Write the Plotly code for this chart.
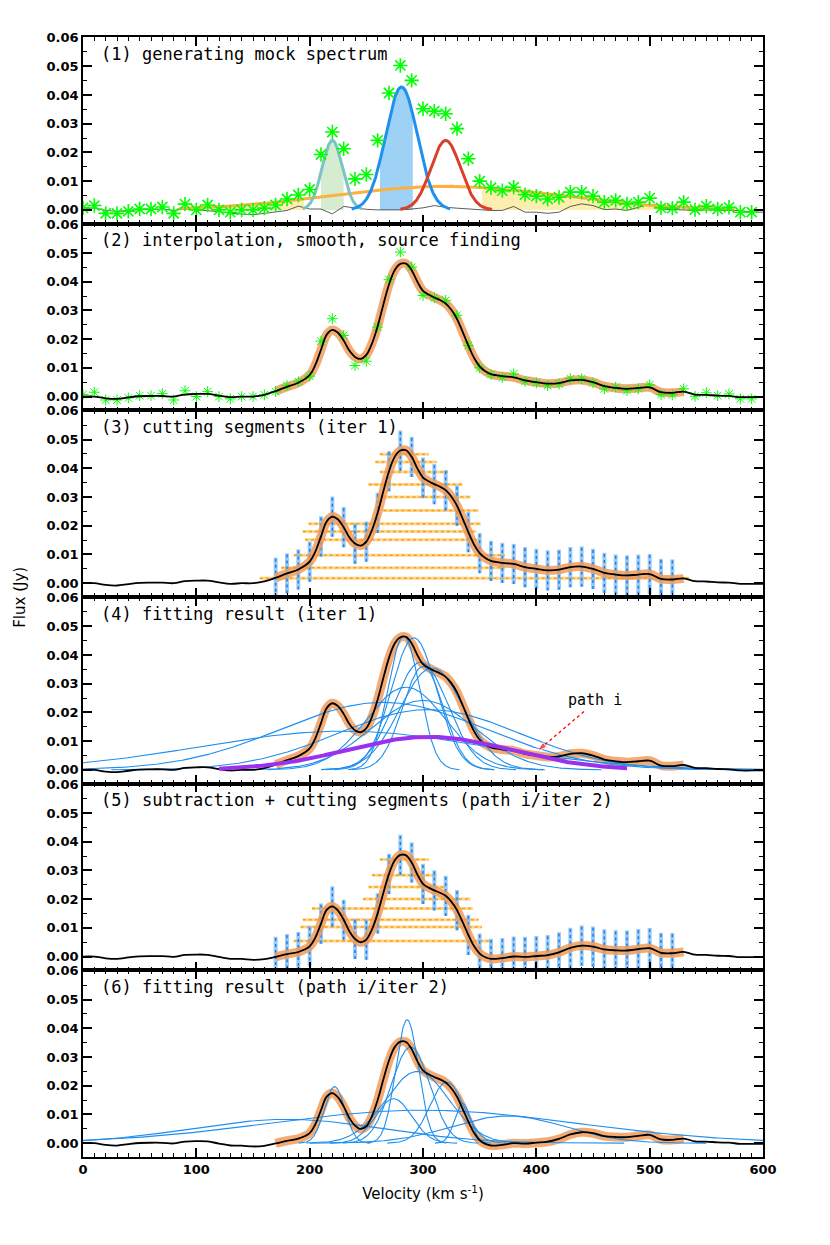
import numpy as np
import plotly.graph_objects as go
from plotly.subplots import make_subplots

# ---- data ----
# mock spectrum channels (green stars), km/s and Jy
chan_vel = list(range(0, 600, 10))
chan_flux = [0.0007, 0.0015, -0.0012, -0.0012, -0.0005, 0.0003, 0.0003, 0.0010, -0.0012, 0.0020,
             0.0000, 0.0017, 0.0000, -0.0008, 0.0000, 0.0000, 0.0006, 0.0017, 0.0038, 0.0052,
             0.0071, 0.0193, 0.0271, 0.0213, 0.0108, 0.0123, 0.0242, 0.0407, 0.0503, 0.0451,
             0.0352, 0.0344, 0.0335, 0.0283, 0.0178, 0.0100, 0.0077, 0.0067, 0.0079, 0.0053,
             0.0048, 0.0038, 0.0044, 0.0062, 0.0062, 0.0048, 0.0027, 0.0033, 0.0021, 0.0027,
             0.0041, 0.0007, 0.0006, 0.0027, 0.0001, 0.0013, 0.0003, 0.0009, -0.0008, -0.0008]

# residual noise of the mock spectrum (thin line, panel 1)
noise_vel = list(range(0, 610, 10))
noise_flux = [0.0003, 0.0007, -0.0002, -0.0005, -0.0002, 0.0001, 0.0001, 0.0003, -0.0002, 0.0003,
              0.0000, -0.0002, -0.0006, -0.0012, -0.0014, -0.0017, -0.0012, -0.0008, -0.0002, 0.0013,
              0.0003, 0.0003, -0.0014, 0.0012, 0.0006, 0.0002, 0.0000, 0.0000, 0.0000, 0.0003,
              0.0007, 0.0015, 0.0009, 0.0006, 0.0003, 0.0000, -0.0002, -0.0002, 0.0012, -0.0008,
              -0.0008, -0.0012, -0.0008, 0.0012, 0.0021, 0.0015, 0.0001, 0.0003, -0.0002, 0.0009,
              0.0021, 0.0003, 0.0001, 0.0001, -0.0002, 0.0000, -0.0002, -0.0002, -0.0002, -0.0008, -0.0008]

# interpolated + smoothed spectrum (black line)
smooth_vel = (list(range(0, 200, 10)) + list(range(200, 365, 5)) + list(range(370, 610, 10)))
smooth_flux = [0.0000, 0.0000, -0.0006, -0.0008, -0.0003, 0.0001, 0.0002, 0.0002, 0.0000, 0.0007,
               0.0009, 0.0009, 0.0003, -0.0002, 0.0000, 0.0000, 0.0006, 0.0019, 0.0034, 0.0048,
               0.0075, 0.0110, 0.0163, 0.0215, 0.0232, 0.0222, 0.0195, 0.0160, 0.0138, 0.0131,
               0.0145, 0.0185, 0.0245, 0.0320, 0.0390, 0.0440, 0.0462, 0.0463, 0.0440, 0.0400,
               0.0368, 0.0355, 0.0345, 0.0336, 0.0324, 0.0302, 0.0270, 0.0225, 0.0178, 0.0135,
               0.0105, 0.0088, 0.0078,
               0.0071, 0.0067, 0.0056, 0.0050, 0.0045, 0.0047, 0.0056, 0.0058, 0.0050, 0.0036,
               0.0030, 0.0027, 0.0030, 0.0032, 0.0015, 0.0013, 0.0017, 0.0007, 0.0006, 0.0003,
               0.0002, -0.0002, -0.0002, -0.0002]
source_range = [170, 530]

# panel 1 input components: amplitude, centre, sigma
mock_amp = [0.0242, 0.0428, 0.0242, 0.0082]
mock_cen = [220, 281, 320, 320]
mock_sig = [9, 14, 13, 100]
mock_span = [(194, 246), (237, 324), (280, 361), (85, 575)]
mock_fill = [[(210, 230)], [(262, 291)], [], [(85, 195), (352, 575)]]

# panel 3 segments and error bars
seg3_level = [0.0449, 0.0422, 0.0387, 0.0344, 0.0300, 0.0253, 0.0207, 0.0180, 0.0151, 0.0097, 0.0054, 0.0017]
seg3_left = [262, 258, 262, 252, 259, 265, 199, 194, 196, 186, 175, 156]
seg3_right = [305, 312, 322, 335, 342, 349, 351, 347, 350, 372, 372, 535]
bar_vel = list(range(170, 530, 10))
bar_half = 0.007

# panel 4 fitted components (iter 1)
fit1_amp = [0.0465, 0.0460, 0.0375, 0.0355, 0.0360, 0.0288, 0.0242, 0.0210, 0.0235, 0.0135]
fit1_cen = [283, 292, 298, 308, 300, 285, 300, 305, 265, 230]
fit1_sig = [14, 20, 24, 28, 18, 35, 45, 80, 90, 125]
path_amp, path_cen, path_sig = 0.0115, 305, 72
path_span = (120, 480)

# panel 5 segments
seg5_level = [0.0338, 0.0283, 0.0242, 0.0200, 0.0167, 0.0128, 0.0103, 0.0054]
seg5_left = [262, 255, 252, 247, 202, 194, 192, 186]
seg5_right = [305, 312, 319, 342, 344, 349, 352, 359]

# panel 6 fitted components (path i / iter 2)
fit2_amp = [0.0197, 0.0430, 0.0335, 0.0250, 0.0155, 0.0213, 0.0139, 0.0083, 0.0115, 0.0095]
fit2_cen = [222, 286, 289, 295, 274, 321, 335, 180, 300, 375]
fit2_sig = [9, 10, 17, 28, 16, 15, 7, 85, 135, 50]

panel_labels = ["(1) generating mock spectrum",
                "(2) interpolation, smooth, source finding",
                "(3) cutting segments (iter 1)",
                "(4) fitting result (iter 1)",
                "(5) subtraction + cutting segments (path i/iter 2)",
                "(6) fitting result (path i/iter 2)"]


def gauss(v, a, c, s):
    return a * np.exp(-0.5 * ((v - c) / s) ** 2)


ORANGE = "rgba(240,150,80,0.8)"
BLUE = "#1e8ff0"
FONT = "DejaVu Sans"
LABEL_FONT = "DejaVu Sans Mono"

sv = np.array(smooth_vel, dtype=float)
sf = np.array(smooth_flux)
resid = sf - gauss(sv, path_amp, path_cen, path_sig)
in_src = (sv >= source_range[0]) & (sv <= source_range[1])

fig = make_subplots(rows=6, cols=1, shared_xaxes=True, vertical_spacing=0)


def add(tr, r):
    fig.add_trace(tr, row=r, col=1)


def spectrum(r, flux):
    add(go.Scatter(x=sv[in_src], y=flux[in_src], mode="lines",
                   line=dict(color=ORANGE, width=9, shape="spline"), hoverinfo="skip"), r)


def black(r, flux):
    add(go.Scatter(x=sv, y=flux, mode="lines",
                   line=dict(color="black", width=1.8, shape="spline")), r)


def stars(r, size, lw):
    add(go.Scatter(x=chan_vel, y=chan_flux, mode="markers",
                   marker=dict(symbol="asterisk-open", size=size, color="#00ff00",
                               line=dict(color="#00ff00", width=lw))), r)


def components(r, amps, cens, sigs):
    for a, c, s in zip(amps, cens, sigs):
        v = np.linspace(max(0, c - 3.5 * s), min(600, c + 3.5 * s), 300)
        add(go.Scatter(x=v, y=gauss(v, a, c, s), mode="lines",
                       line=dict(color=BLUE, width=1.1)), r)


def segments(r, levels, lefts, rights, flux):
    hx, hy = [], []
    for lv, lo, hi in zip(levels, lefts, rights):
        hx += [lo, hi, None]
        hy += [lv, lv, None]
    add(go.Scatter(x=hx, y=hy, mode="lines", line=dict(color="rgba(255,195,100,0.7)", width=3)), r)
    add(go.Scatter(x=hx, y=hy, mode="lines", line=dict(color="#ffa000", width=1.5, dash="dot")), r)
    centre = np.interp(bar_vel, sv, flux)
    vx, vy = [], []
    for v, c in zip(bar_vel, centre):
        vx += [v, v, None]
        vy += [c - bar_half, c + bar_half, None]
    add(go.Scatter(x=vx, y=vy, mode="lines", line=dict(color="rgba(120,185,245,0.75)", width=4)), r)
    add(go.Scatter(x=vx, y=vy, mode="lines", line=dict(color="#1e7fe0", width=1.5, dash="dot")), r)


# panel 1: mock components
fill_of = {3: "#fdeeb0", 0: "#d5ecd0", 1: "#9dd2f6"}
for i in [3, 0, 1]:
    for lo, hi in mock_fill[i]:
        v = np.linspace(lo, hi, 100)
        add(go.Scatter(x=v, y=gauss(v, mock_amp[i], mock_cen[i], mock_sig[i]), mode="lines",
                       line=dict(width=0), fill="tozeroy", fillcolor=fill_of[i]), 1)
add(go.Scatter(x=noise_vel, y=noise_flux, mode="lines", line=dict(color="#333333", width=0.8)), 1)
line_cols = ["#7cc3c3", "#1e90f0", "#d9402b", "#fbb040"]
for i in [3, 0, 1, 2]:
    v = np.linspace(mock_span[i][0], mock_span[i][1], 300)
    add(go.Scatter(x=v, y=gauss(v, mock_amp[i], mock_cen[i], mock_sig[i]), mode="lines",
                   line=dict(color=line_cols[i], width=3)), 1)
stars(1, 12, 1.6)

# panel 2: smoothing
spectrum(2, sf)
stars(2, 9, 1.0)
black(2, sf)

# panel 3: segments iter 1
segments(3, seg3_level, seg3_left, seg3_right, sf)
spectrum(3, sf)
black(3, sf)

# panel 4: fit iter 1
spectrum(4, sf)
components(4, fit1_amp, fit1_cen, fit1_sig)
black(4, sf)
pv = np.linspace(path_span[0], path_span[1], 300)
add(go.Scatter(x=pv, y=gauss(pv, path_amp, path_cen, path_sig), mode="lines",
               line=dict(color="#9b30f0", width=4)), 4)
# dotted red arrow pointing at path i
add(go.Scatter(x=[442, 401], y=[0.0203, 0.0066], mode="lines+markers",
               line=dict(color="red", width=1.3, dash="dot"),
               marker=dict(symbol="arrow", size=[0, 10], angleref="previous", color="red")), 4)
fig.add_annotation(x=452, y=0.0243, xref="x4", yref="y4", text="path i", showarrow=False,
                   font=dict(family=LABEL_FONT, size=15, color="black"))

# panel 5: subtraction + segments
segments(5, seg5_level, seg5_left, seg5_right, resid)
spectrum(5, resid)
black(5, resid)

# panel 6: fit path i / iter 2
spectrum(6, resid)
components(6, fit2_amp, fit2_cen, fit2_sig)
black(6, resid)

for r, lab in enumerate(panel_labels, start=1):
    xr = "x" if r == 1 else f"x{r}"
    yr = "y" if r == 1 else f"y{r}"
    fig.add_annotation(x=14, y=0.0544, xref=xr, yref=yr, text=lab, showarrow=False,
                       xanchor="left", yanchor="middle",
                       font=dict(family=LABEL_FONT, size=17, color="black"))

fig.add_annotation(x=-0.093, y=0.5, xref="paper", yref="paper", text="Flux (Jy)",
                   textangle=-90, showarrow=False, xanchor="center", yanchor="middle",
                   font=dict(family=FONT, size=15, color="black"))

tick_font = dict(family=FONT, size=13, color="black", weight="bold")
fig.update_xaxes(range=[0, 600], dtick=100, tick0=0, ticks="inside", ticklen=9, tickwidth=1.5,
                 minor=dict(dtick=10, ticks="inside", ticklen=4, tickwidth=1, tickcolor="black"),
                 showline=True, linecolor="black", linewidth=1.5, mirror="ticks",
                 showgrid=False, zeroline=False, tickcolor="black", tickfont=tick_font)
fig.update_xaxes(title_text="Velocity (km s<sup>-1</sup>)",
                 title_font=dict(family=FONT, size=15, color="black"), title_standoff=12, row=6, col=1)
fig.update_yaxes(range=[-0.0048, 0.0602], dtick=0.01, tick0=0, tickformat=".2f",
                 ticks="inside", ticklen=9, tickwidth=1.5,
                 minor=dict(dtick=0.005, ticks="inside", ticklen=4, tickwidth=1, tickcolor="black"),
                 showline=True, linecolor="black", linewidth=1.5, mirror="ticks",
                 showgrid=False, zeroline=False, tickcolor="black", tickfont=tick_font)

fig.update_layout(width=830, height=1245, showlegend=False,
                  margin=dict(l=75, r=75, t=29, b=96),
                  plot_bgcolor="white", paper_bgcolor="white",
                  font=dict(family=FONT, color="black"))

fig.write_html("out.html")
